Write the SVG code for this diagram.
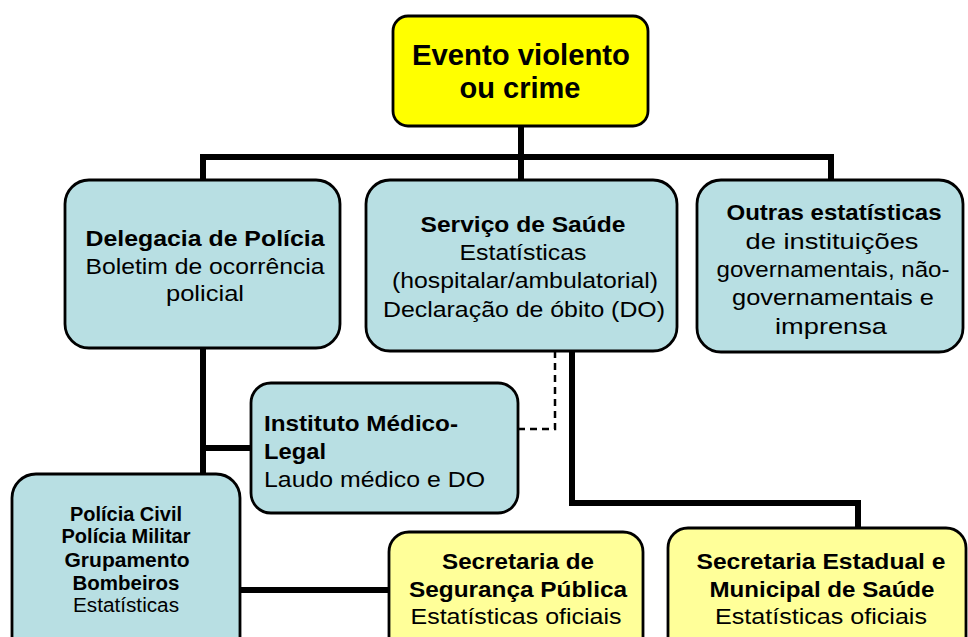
<svg xmlns="http://www.w3.org/2000/svg" width="968" height="637" viewBox="0 0 968 637">
<style>
.blue{fill:#b8dfe3;stroke:#000;stroke-width:2.8}
.ylw{fill:#ffff99;stroke:#000;stroke-width:2.8}
.top{fill:#ffff00;stroke:#000;stroke-width:2.8}
text{font-family:"Liberation Sans",Arial,sans-serif;fill:#000}
.b{font-weight:bold}
.m{text-anchor:middle}
.f21{font-size:22.5px}
.f19{font-size:19.5px}
.f28{font-size:30px;font-weight:bold}
.con{fill:none;stroke:#000;stroke-width:6;stroke-linejoin:miter}
.dash{fill:none;stroke:#000;stroke-width:2.5;stroke-dasharray:7,5}
</style>
<rect width="968" height="637" fill="#fff"/>
<g id="connectors">
<path class="con" d="M521,126 V180"/>
<path class="con" d="M203,182 V157 H831 V182"/>
<path class="con" d="M203,348 V476"/>
<path class="con" d="M203,448 H252"/>
<path class="con" d="M240,590 H390"/>
<path class="dash" d="M555,351 V429 H518"/>
<path class="con" d="M572,351 V503 H858 V528"/>
</g>
<g id="evento">
<rect class="top" x="393" y="16" width="255" height="110" rx="15"/>
<text class="f28 m" x="521" y="65" textLength="218" lengthAdjust="spacingAndGlyphs">Evento violento</text>
<text class="f28 m" x="520" y="98" textLength="121" lengthAdjust="spacingAndGlyphs">ou crime</text>
</g>
<g id="delegacia">
<rect class="blue" x="65" y="180" width="275" height="168" rx="24"/>
<text class="f21 b m" x="205" y="246" textLength="239" lengthAdjust="spacingAndGlyphs">Delegacia de Polícia</text>
<text class="f21 m" x="205" y="274" textLength="239" lengthAdjust="spacingAndGlyphs">Boletim de ocorrência</text>
<text class="f21 m" x="205" y="301" textLength="78" lengthAdjust="spacingAndGlyphs">policial</text>
</g>
<g id="servico">
<rect class="blue" x="366" y="180" width="311" height="171" rx="24"/>
<text class="f21 b m" x="523" y="232" textLength="205" lengthAdjust="spacingAndGlyphs">Serviço de Saúde</text>
<text class="f21 m" x="523" y="260" textLength="127" lengthAdjust="spacingAndGlyphs">Estatísticas</text>
<text class="f21 m" x="525" y="288" textLength="266" lengthAdjust="spacingAndGlyphs">(hospitalar/ambulatorial)</text>
<text class="f21 m" x="524" y="317" textLength="282" lengthAdjust="spacingAndGlyphs">Declaração de óbito (DO)</text>
</g>
<g id="outras">
<rect class="blue" x="697" y="180" width="266" height="172" rx="24"/>
<text class="f21 b m" x="834" y="220" textLength="215" lengthAdjust="spacingAndGlyphs">Outras estatísticas</text>
<text class="f21 m" x="832" y="249" textLength="173" lengthAdjust="spacingAndGlyphs">de instituições</text>
<text class="f21 m" x="833" y="277" textLength="233" lengthAdjust="spacingAndGlyphs">governamentais, não-</text>
<text class="f21 m" x="833" y="305" textLength="202" lengthAdjust="spacingAndGlyphs">governamentais e</text>
<text class="f21 m" x="831" y="334" textLength="112" lengthAdjust="spacingAndGlyphs">imprensa</text>
</g>
<g id="iml">
<rect class="blue" x="251" y="383" width="267" height="130" rx="20"/>
<text class="f21 b" x="264" y="431" textLength="194" lengthAdjust="spacingAndGlyphs">Instituto Médico-</text>
<text class="f21 b" x="264" y="459" textLength="62" lengthAdjust="spacingAndGlyphs">Legal</text>
<text class="f21" x="264" y="487" textLength="221" lengthAdjust="spacingAndGlyphs">Laudo médico e DO</text>
</g>
<g id="policia">
<rect class="blue" x="12" y="474" width="228" height="190" rx="24"/>
<text class="f19 b m" x="126" y="521" textLength="112" lengthAdjust="spacingAndGlyphs">Polícia Civil</text>
<text class="f19 b m" x="126" y="543" textLength="129" lengthAdjust="spacingAndGlyphs">Polícia Militar</text>
<text class="f19 b m" x="127" y="567" textLength="125" lengthAdjust="spacingAndGlyphs">Grupamento</text>
<text class="f19 b m" x="126" y="590" textLength="107" lengthAdjust="spacingAndGlyphs">Bombeiros</text>
<text class="f19 m" x="126" y="612" textLength="106" lengthAdjust="spacingAndGlyphs">Estatísticas</text>
</g>
<g id="seguranca">
<rect class="ylw" x="389" y="532" width="254" height="130" rx="20"/>
<text class="f21 b m" x="518" y="569" textLength="152" lengthAdjust="spacingAndGlyphs">Secretaria de</text>
<text class="f21 b m" x="518" y="597" textLength="218" lengthAdjust="spacingAndGlyphs">Segurança Pública</text>
<text class="f21 m" x="516" y="624" textLength="211" lengthAdjust="spacingAndGlyphs">Estatísticas oficiais</text>
</g>
<g id="estadual">
<rect class="ylw" x="668" y="528" width="298" height="134" rx="20"/>
<text class="f21 b m" x="821" y="569" textLength="249" lengthAdjust="spacingAndGlyphs">Secretaria Estadual e</text>
<text class="f21 b m" x="822" y="597" textLength="225" lengthAdjust="spacingAndGlyphs">Municipal de Saúde</text>
<text class="f21 m" x="821" y="624" textLength="212" lengthAdjust="spacingAndGlyphs">Estatísticas oficiais</text>
</g>
</svg>
